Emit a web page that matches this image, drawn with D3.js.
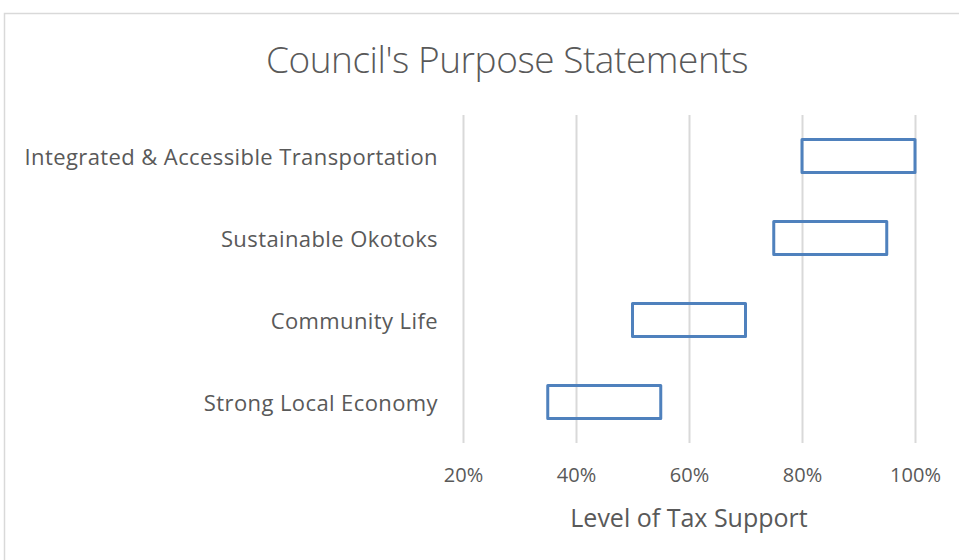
<!DOCTYPE html>
<html>
<head>
<meta charset="utf-8">
<script src="https://cdn.jsdelivr.net/npm/d3@7"></script>
<style>
  body { margin: 0; background: #fff; }
  svg { display: block; }
  text { font-family: "Open Sans", "Segoe UI", sans-serif; fill: #595959; }
</style>
</head>
<body>
<div id="graphic"></div>
<script>
// data
const categories = [
  "Integrated & Accessible Transportation",
  "Sustainable Okotoks",
  "Community Life",
  "Strong Local Economy"
];
const lowValues = [0.80, 0.75, 0.50, 0.35];
const highValues = [1.00, 0.95, 0.70, 0.55];
const tickValues = [0.2, 0.4, 0.6, 0.8, 1.0];
const titleText = "Council's Purpose Statements";
const xAxisLabel = "Level of Tax Support";

const width = 959, height = 560;
const margin = { top: 115, right: 44, bottom: 117, left: 463 };

let svg = d3.select('#graphic').append('svg')
  .attr('width', width)
  .attr('height', height);

// chart frame
svg.append('rect')
  .attr('x', 4.5).attr('y', 13.5)
  .attr('width', 1100).attr('height', 700)
  .attr('fill', 'none')
  .attr('stroke', '#d9d9d9')
  .attr('stroke-width', 1.5);

let x = d3.scaleLinear()
  .domain([0.2, 1.0])
  .range([margin.left, width - margin.right]);

let y = d3.scaleBand()
  .domain(categories)
  .range([margin.top, height - margin.bottom])
  .paddingInner(0.6)
  .paddingOuter(0.3);

// gridlines + tick labels
let xAxis = d3.axisBottom(x)
  .tickValues(tickValues)
  .tickSize(-(height - margin.bottom - margin.top))
  .tickPadding(25)
  .tickFormat(d3.format('.0%'));

let gx = svg.append('g')
  .attr('class', 'x axis')
  .attr('transform', 'translate(0,' + (height - margin.bottom) + ')')
  .call(xAxis);
gx.select('.domain').remove();
gx.selectAll('line').attr('stroke', '#d9d9d9').attr('stroke-width', 2);
gx.selectAll('text')
  .attr('font-size', 20)
  .style('font-family', '"Open Sans", sans-serif')
  .attr('fill', '#595959');

// category labels
let yAxis = d3.axisLeft(y).tickSize(0).tickPadding(25);
let gy = svg.append('g')
  .attr('class', 'y axis')
  .attr('transform', 'translate(' + margin.left + ',0)')
  .call(yAxis);
gy.select('.domain').remove();
gy.selectAll('text')
  .attr('font-size', 22)
  .attr('dy', '0.42em')
  .attr('letter-spacing', 0.4)
  .style('font-family', '"Open Sans", sans-serif')
  .attr('fill', '#595959');

// floating range bars
svg.selectAll('.bar')
  .data(categories)
  .join('rect')
  .attr('class', 'bar')
  .attr('x', (d, i) => x(lowValues[i]))
  .attr('y', d => y(d))
  .attr('width', (d, i) => x(highValues[i]) - x(lowValues[i]))
  .attr('height', y.bandwidth())
  .attr('fill', 'none')
  .attr('stroke', '#4f81bd')
  .attr('stroke-width', 3)
  .attr('stroke-linejoin', 'round');

// title
svg.append('text')
  .attr('x', 507)
  .attr('y', 73)
  .attr('text-anchor', 'middle')
  .attr('font-size', 37)
  .attr('font-weight', 300)
  .attr('letter-spacing', -0.45)
  .text(titleText);

// x axis label
svg.append('text')
  .attr('x', (x.range()[0] + x.range()[1]) / 2)
  .attr('y', 527)
  .attr('text-anchor', 'middle')
  .attr('font-size', 25)
  .text(xAxisLabel);
</script>
</body>
</html>
